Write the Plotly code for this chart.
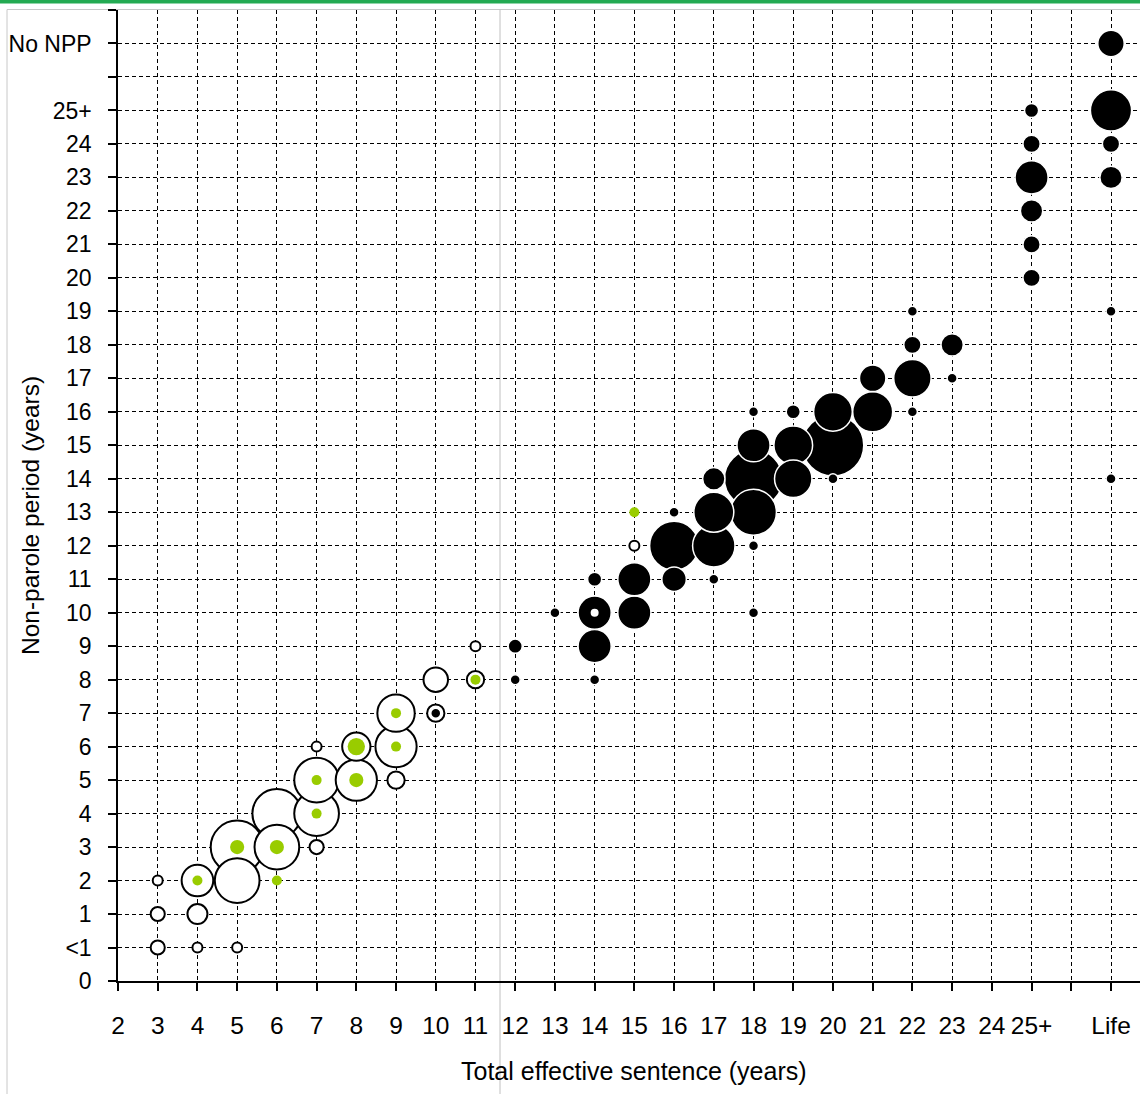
import plotly.graph_objects as go

# ---- axis categories / tick labels ----
X_LABELS = ['2', '3', '4', '5', '6', '7', '8', '9', '10', '11', '12', '13', '14', '15',
            '16', '17', '18', '19', '20', '21', '22', '23', '24', '25+', '', 'Life']
Y_LABELS = ['0', '<1', '1', '2', '3', '4', '5', '6', '7', '8', '9', '10', '11', '12', '13',
            '14', '15', '16', '17', '18', '19', '20', '21', '22', '23', '24', '25+', '',
            'No NPP', '']

# ---- series: open circles ----
OPEN_X = ['3', '3', '3', '4', '4', '4', '5', '5', '5', '6', '6', '7', '7', '7', '7',
          '8', '8', '9', '9', '9', '10', '10', '11', '11', '14', '15']
OPEN_Y = ['<1', '1', '2', '<1', '1', '2', '<1', '2', '3', '3', '4', '3', '4', '5', '6',
          '5', '6', '5', '6', '7', '7', '8', '8', '9', '10', '12']
OPEN_N = [2, 2, 1, 1, 4, 10, 1, 20, 28, 20, 24, 2, 20, 20, 1,
          17, 8, 3, 17, 14, 3, 6, 3, 1, 1, 1]

# ---- series: black circles ----
BLACK_X = ['10', '12', '12', '13', '14', '14', '14', '14', '15', '15', '16', '16', '16',
           '17', '17', '17', '17', '18', '18', '18', '18', '18', '18', '19', '19', '19',
           '20', '20', '20', '21', '21', '22', '22', '22', '22', '23', '23',
           '25+', '25+', '25+', '25+', '25+', '25+',
           'Life', 'Life', 'Life', 'Life', 'Life', 'Life']
BLACK_Y = ['7', '8', '9', '10', '8', '9', '10', '11', '10', '11', '11', '12', '13',
           '11', '12', '13', '14', '10', '12', '13', '14', '15', '16', '14', '15', '16',
           '14', '15', '16', '16', '17', '16', '17', '18', '19', '17', '18',
           '20', '21', '22', '23', '24', '25+',
           '14', '19', '23', '24', '25+', 'No NPP']
BLACK_N = [1, 1, 2, 1, 1, 11, 11, 2, 11, 11, 6, 24, 1,
           1, 18, 16, 5, 1, 1, 21, 34, 11, 1, 14, 15, 2,
           1, 38, 15, 16, 7, 1, 14, 3, 1, 1, 5,
           3, 3, 5, 11, 3, 2,
           1, 1, 5, 3, 17, 7]

# ---- series: green dots ----
GREEN_X = ['4', '5', '6', '6', '7', '7', '8', '8', '9', '9', '11', '15']
GREEN_Y = ['2', '3', '3', '2', '4', '5', '5', '6', '6', '7', '8', '13']
GREEN_N = [1, 2, 2, 1, 1, 1, 2, 3, 1, 1, 1, 1]

# ---- mapping of category labels to axis positions ----
xpos = {lab: 2 + i for i, lab in enumerate(X_LABELS) if lab}
ypos = {lab: i for i, lab in enumerate(Y_LABELS) if lab}

STYLES = {
    'open': dict(fill='white', line='black', lw=2.0),
    'black': dict(fill='black', line='white', lw=1.5),
    'green': dict(fill='#99cc00', line='#99cc00', lw=0.0),
}

points = []
for name, xs, ys, ns in [('open', OPEN_X, OPEN_Y, OPEN_N),
                         ('black', BLACK_X, BLACK_Y, BLACK_N),
                         ('green', GREEN_X, GREEN_Y, GREEN_N)]:
    for xv, yv, nv in zip(xs, ys, ns):
        points.append((nv, xpos[xv], ypos[yv], name))
# larger bubbles drawn first, smaller on top
points.sort(key=lambda p: -p[0])

fig = go.Figure()
fig.add_trace(go.Scatter(
    x=[p[1] for p in points],
    y=[p[2] for p in points],
    mode='markers',
    marker=dict(
        size=[p[0] for p in points],
        sizemode='area',
        sizeref=0.02,
        color=[STYLES[p[3]]['fill'] for p in points],
        line=dict(color=[STYLES[p[3]]['line'] for p in points],
                  width=[STYLES[p[3]]['lw'] for p in points]),
        opacity=1,
    ),
    hoverinfo='skip',
    showlegend=False,
))

FONT = "Arial, 'Liberation Sans', sans-serif"

W, H = 1140, 1094
L, R, T, B = 118, 0, 10, 113
pw, ph = W - L - R, H - T - B


def px_x(px):
    return (px - L) / pw


def px_y(py):
    return (H - B - py) / ph


axis_common = dict(
    showline=True, linecolor='black', linewidth=1.5,
    ticks='outside', ticklen=8, tickwidth=1.5, tickcolor='black',
    showgrid=True, gridcolor='black', gridwidth=1, griddash='4px,3px',
    zeroline=False, mirror=False,
)

fig.update_xaxes(
    range=[2, 27.73],
    tickmode='array', tickvals=list(range(2, 2 + len(X_LABELS))), ticktext=X_LABELS,
    tickfont=dict(family=FONT, size=24.5, color='black'),
    ticklabelstandoff=14,
    **axis_common,
)
fig.update_yaxes(
    range=[0, 29],
    tickmode='array', tickvals=list(range(len(Y_LABELS))), ticktext=Y_LABELS,
    tickfont=dict(family=FONT, size=23, color='black'),
    ticklabelstandoff=12,
    **axis_common,
)

shapes = [
    # top green bar
    dict(type='rect', xref='paper', yref='paper', x0=px_x(0), x1=px_x(1140),
         y0=px_y(3.5), y1=px_y(0), fillcolor='#23aa52', line=dict(width=0), layer='above'),
    # light grey chart frame (left and top)
    dict(type='line', xref='paper', yref='paper', x0=px_x(7), x1=px_x(7),
         y0=px_y(1094), y1=px_y(9.5), line=dict(color='#c8c8c8', width=1), layer='below'),
    dict(type='line', xref='paper', yref='paper', x0=px_x(7), x1=px_x(1140),
         y0=px_y(9.5), y1=px_y(9.5), line=dict(color='#c8c8c8', width=1), layer='below'),
    # grey vertical separator
    dict(type='line', xref='paper', yref='paper', x0=px_x(500), x1=px_x(500),
         y0=px_y(1094), y1=px_y(9.5), line=dict(color='#c0c0c0', width=1), layer='below'),
]

annotations = [
    dict(text='Total effective sentence (years)', xref='paper', yref='paper',
         x=px_x(634), y=px_y(1071), xanchor='center', yanchor='middle', showarrow=False,
         font=dict(family=FONT, size=25, color='black')),
    dict(text='Non-parole period (years)', xref='paper', yref='paper',
         x=px_x(30), y=px_y(516), xanchor='center', yanchor='middle', showarrow=False,
         textangle=-90, font=dict(family=FONT, size=24.5, color='black')),
]

fig.update_layout(
    width=W, height=H,
    margin=dict(l=L, r=R, t=T, b=B, autoexpand=False),
    paper_bgcolor='white', plot_bgcolor='white',
    font=dict(family=FONT, color='black'),
    shapes=shapes, annotations=annotations,
    showlegend=False,
)

fig.write_html(
    'out.html',
    config={'displayModeBar': False},
    post_script="document.body.style.margin='0';document.body.style.overflow='hidden';",
)
